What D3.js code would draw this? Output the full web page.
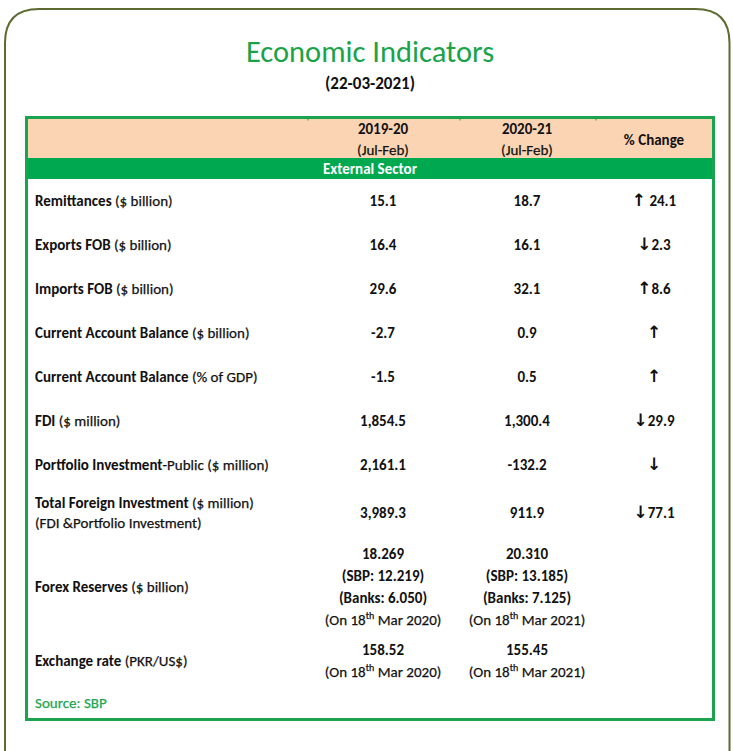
<!DOCTYPE html>
<html><head><meta charset="utf-8">
<script src="https://cdn.jsdelivr.net/npm/d3@7"></script>
<style>body{margin:0;background:#fff}svg{display:block}</style>
</head><body>
<script>
const title = "Economic Indicators";
const dateLabel = "(22-03-2021)";
const headers = [["", ""], ["2019-20", "(Jul-Feb)"], ["2020-21", "(Jul-Feb)"], ["% Change", ""]];
const section = "External Sector";
// label lines: each line = [boldPart, normalPart]
const labels = [
  [["Remittances", " ($ billion)"]],
  [["Exports FOB", " ($ billion)"]],
  [["Imports FOB", " ($ billion)"]],
  [["Current Account Balance", " ($ billion)"]],
  [["Current Account Balance", " (% of GDP)"]],
  [["FDI", " ($ million)"]],
  [["Portfolio Investment", "-Public ($ million)"]],
  [["Total Foreign Investment", " ($ million)"], ["", "(FDI &Portfolio Investment)"]],
  [["Forex Reserves", " ($ billion)"]],
  [["Exchange rate", " (PKR/US$)"]]
];
const values2019 = [
  ["15.1"], ["16.4"], ["29.6"], ["-2.7"], ["-1.5"], ["1,854.5"], ["2,161.1"], ["3,989.3"],
  ["18.269", "(SBP: 12.219)", "(Banks: 6.050)", "(On 18|th| Mar 2020)"],
  ["158.52", "(On 18|th| Mar 2020)"]
];
const values2020 = [
  ["18.7"], ["16.1"], ["32.1"], ["0.9"], ["0.5"], ["1,300.4"], ["-132.2"], ["911.9"],
  ["20.310", "(SBP: 13.185)", "(Banks: 7.125)", "(On 18|th| Mar 2021)"],
  ["155.45", "(On 18|th| Mar 2021)"]
];
const changeArrows = ["up", "down", "up", "up", "up", "down", "down", "down", "", ""];
const changeValues = ["24.1", "2.3", "8.6", "", "", "29.9", "", "77.1", "", ""];
const source = "Source: SBP";

const W = 733, H = 751;
const FONT = "Carlito, Calibri, Lato, 'Open Sans', sans-serif";
const GREEN = "#1ba350", BAND = "#00a850", PEACH = "#fbd4b4", FRAME = "#5d6b33";
const FS = "15px";
const INK = "#111";

const svg = d3.select("body").append("svg").attr("width", W).attr("height", H)
  .style("font-family", FONT);

// outer rounded frame (open at bottom)
const r = 34, fx0 = 5, fx1 = 729.5, fy0 = 9;
svg.append("path")
  .attr("d", `M${fx0},${H + 5} V${fy0 + r} Q${fx0},${fy0} ${fx0 + r},${fy0} H${fx1 - r} Q${fx1},${fy0} ${fx1},${fy0 + r} V${H + 5}`)
  .attr("fill", "none").attr("stroke", FRAME).attr("stroke-width", 2);

svg.append("text").attr("x", 370).attr("y", 62).attr("text-anchor", "middle")
  .attr("fill", "#1aa34a").style("font-size", "30.5px").text(title);
svg.append("text").attr("x", 370).attr("y", 89).attr("text-anchor", "middle")
  .attr("fill", INK).style("font-size", "17px").style("font-weight", "bold").text(dateLabel);

// table geometry
const tx0 = 26.5, tx1 = 713.5, ty0 = 117.5, ty1 = 719.5;
const colEdges = [tx0, 308, 460, 596, tx1];
const xCol = d3.scaleOrdinal().domain([0, 1, 2, 3]).range([35, 383, 527, 654]);

svg.append("rect").attr("x", tx0).attr("y", 118).attr("width", tx1 - tx0).attr("height", 40).attr("fill", PEACH);
svg.append("rect").attr("x", tx0).attr("y", 158).attr("width", tx1 - tx0).attr("height", 21).attr("fill", BAND);
[1, 2, 3].forEach(i => svg.append("line").attr("x1", colEdges[i]).attr("x2", colEdges[i])
  .attr("y1", ty0).attr("y2", ty0 + 3).attr("stroke", GREEN).attr("stroke-width", 1));

function normal(sel) { return sel.attr("stroke", INK).attr("stroke-width", 0.25); }

headers.forEach((h, i) => {
  if (i === 3) {
    svg.append("text").attr("x", xCol(i)).attr("y", 144.5).attr("text-anchor", "middle")
      .style("font-size", FS).style("font-weight", "bold").attr("fill", INK).text(h[0]);
  } else if (h[0]) {
    svg.append("text").attr("x", xCol(i)).attr("y", 133.5).attr("text-anchor", "middle")
      .style("font-size", FS).style("font-weight", "bold").attr("fill", INK).text(h[0]);
    normal(svg.append("text").attr("x", xCol(i)).attr("y", 154.5).attr("text-anchor", "middle")
      .style("font-size", FS).attr("fill", INK).text(h[1]));
  }
});
svg.append("text").attr("x", 370).attr("y", 174).attr("text-anchor", "middle")
  .style("font-size", FS).style("font-weight", "bold").attr("fill", "#fff").text(section);

// row layout: units computed from line counts
const lineCounts = labels.map((l, i) => Math.max(l.length, values2019[i].length, values2020[i].length));
const rowUnits = lineCounts.map(n => n === 1 ? 44 : n * 22 + 8);
const starts = [0, ...d3.cumsum(rowUnits)];
const yPos = d3.scaleLinear().domain([0, 1]).range([178, 179]);

const g = svg.append("g").attr("fill", INK).style("font-size", FS);
const BL = 5.5;

labels.forEach((lines, i) => {
  const cy = yPos(starts[i] + rowUnits[i] / 2);
  const n = lines.length;
  lines.forEach((ln, j) => {
    const y = cy + (j - (n - 1) / 2) * 20 + BL;
    const t = g.append("text").attr("x", xCol(0)).attr("y", y);
    if (ln[0]) t.append("tspan").style("font-weight", "bold").text(ln[0]);
    normal(t.append("tspan").text(ln[1]));
  });
  [values2019, values2020].forEach((vals, k) => {
    const vl = vals[i];
    const m = vl.length;
    vl.forEach((v, j) => {
      const y = cy + (j - (m - 1) / 2) * 22 + BL;
      const t = g.append("text").attr("x", xCol(k + 1)).attr("y", y).attr("text-anchor", "middle");
      if (v.includes("|")) {
        const parts = v.split("|");
        normal(t);
        t.append("tspan").text(parts[0]);
        t.append("tspan").attr("dy", -6).style("font-size", "10px").text(parts[1]);
        t.append("tspan").attr("dy", 6).text(parts[2]);
      } else {
        t.style("font-weight", "bold").text(v);
      }
    });
  });
  if (changeArrows[i]) {
    const t = g.append("text").attr("x", xCol(3)).attr("y", cy + BL).attr("text-anchor", "middle")
      .style("font-weight", "bold");
    t.append("tspan").style("font-family", "DejaVu Sans").style("font-weight", "bold").style("font-size", "17px")
      .text(changeArrows[i] === "up" ? "\u2191" : "\u2193");
    if (changeValues[i]) t.append("tspan").text((i === 0 ? " " : "") + changeValues[i]);
  }
});

normal(svg.append("text").attr("x", 35).attr("y", 708).attr("fill", "#21a550")
  .style("font-size", FS).text(source)).attr("stroke", "#21a550");

svg.append("rect").attr("x", tx0).attr("y", ty0).attr("width", tx1 - tx0).attr("height", ty1 - ty0)
  .attr("fill", "none").attr("stroke", GREEN).attr("stroke-width", 3);
</script>
</body></html>
